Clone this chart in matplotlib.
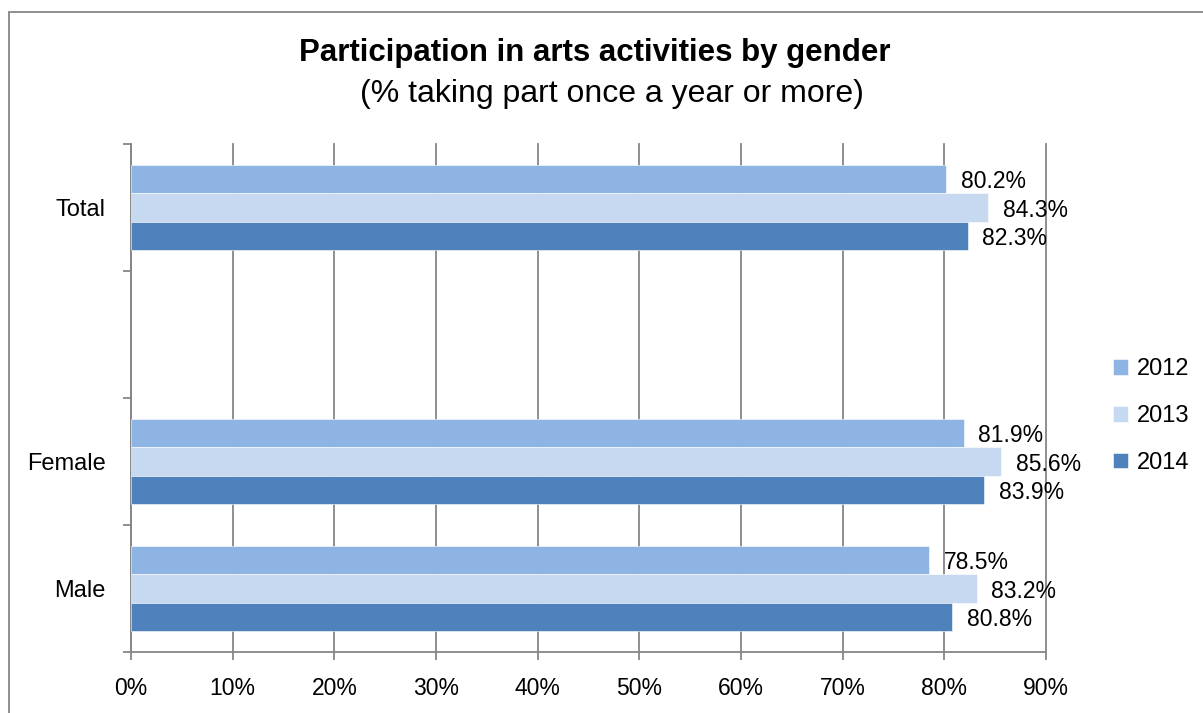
import matplotlib
matplotlib.use("Agg")
import matplotlib.pyplot as plt
from matplotlib.patches import Rectangle
import numpy as np

# data
categories = ["Male", "Female", "", "Total"]
years = ["2012", "2013", "2014"]
vals_2012 = [78.5, 81.9, np.nan, 80.2]
vals_2013 = [83.2, 85.6, np.nan, 84.3]
vals_2014 = [80.8, 83.9, np.nan, 82.3]
colors = ["#8EB4E3", "#C6D9F1", "#4F81BD"]

plt.rcParams['font.family'] = ['Liberation Sans', 'DejaVu Sans']
gray = "#868686"
fs = 16.5

fig = plt.figure(figsize=(12.03, 7.13), dpi=100)
ax = fig.add_axes([131/1203, 1-652/713, (1046-131)/1203, (652-144)/713])

y = np.arange(len(categories))
h = 0.224
series = [vals_2012, vals_2013, vals_2014]
offsets = [h, 0, -h]
for vals, off, col, yr in zip(series, offsets, colors, years):
    ax.barh(y + off, vals, height=h, color=col, edgecolor="white",
            linewidth=0.4, label=yr, zorder=3)
    for yy, v in zip(y + off, vals):
        if not np.isnan(v):
            ax.annotate(f"{v:.1f}%", (v, yy), xytext=(10.5, -2),
                        textcoords="offset points", ha="left", va="center",
                        fontsize=fs, color="black", zorder=4)

ax.set_xlim(0, 90)
ax.set_ylim(-0.5, 3.5)
ax.set_xticks(np.arange(0, 91, 10))
ax.set_xticklabels([f"{t}%" for t in range(0, 91, 10)], fontsize=fs)
ax.tick_params(axis="x", length=6, width=1.3, color=gray, pad=12)

ax.set_yticks(np.arange(-0.5, 3.6, 1))
ax.set_yticklabels([])
ax.set_yticks([0, 1, 3], minor=True)
ax.set_yticklabels(["Male", "Female", "Total"], minor=True, fontsize=17)
ax.tick_params(axis="y", which="major", length=6, width=1.3, color=gray)
ax.tick_params(axis="y", which="minor", length=0, pad=18)

ax.grid(axis="x", color=gray, linewidth=1.3, zorder=0, clip_on=False)
ax.set_axisbelow(True)
for s in ["top", "right"]:
    ax.spines[s].set_visible(False)
for s in ["left", "bottom"]:
    ax.spines[s].set_color(gray)
    ax.spines[s].set_linewidth(1.3)

fig.text(0.494, 1-53/713, "Participation in arts activities by gender",
         ha="center", va="center", fontsize=22.5, fontweight="bold")
fig.text(0.509, 1-94/713, "(% taking part once a year or more)",
         ha="center", va="center", fontsize=23)

ax.legend(loc="center left", bbox_to_anchor=(1101/1203, 1-416/713),
          bbox_transform=fig.transFigure, frameon=False, fontsize=17,
          handlelength=0.65, handleheight=0.65, handletextpad=0.35,
          labelspacing=1.05, borderpad=0)

fig.patches.append(Rectangle((9/1203, -0.1), 1.2, 1.1 - 12/713,
                             transform=fig.transFigure, fill=False,
                             edgecolor=gray, linewidth=1.3))

fig.savefig("out.png", dpi=100)
